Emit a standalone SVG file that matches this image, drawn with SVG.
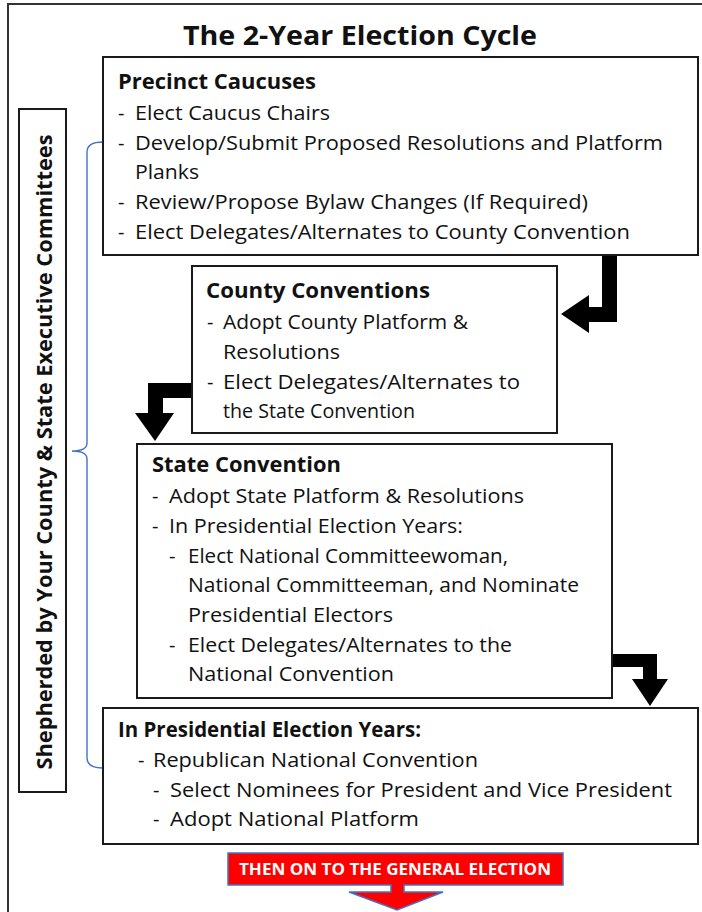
<svg xmlns="http://www.w3.org/2000/svg" width="702" height="912" viewBox="0 0 702 912">
<style>
  text { font-family: "Open Sans", "Liberation Sans", sans-serif; fill: #111; }
  .t { font-size: 20px; }
  .h { font-size: 21px; font-weight: bold; }
  .box { fill: #fff; stroke: #1a1a1a; stroke-width: 2; }
  .arrow { fill: #000; stroke: none; }
</style>
<rect x="0" y="0" width="702" height="912" fill="#fff"/>
<g id="frame">
  <path d="M8,912 V4 H702" fill="none" stroke="#333" stroke-width="2"/>
</g>
<g id="title">
  <text x="183" y="45" style="font-size:27px;font-weight:bold" textLength="354" lengthAdjust="spacingAndGlyphs">The 2-Year Election Cycle</text>
</g>
<g id="side-label">
  <rect x="19" y="109" width="47" height="683" class="box"/>
  <text transform="translate(52,452) rotate(-90)" text-anchor="middle" style="font-size:22px;font-weight:bold" textLength="635" lengthAdjust="spacingAndGlyphs">Shepherded by Your County &amp; State Executive Committees</text>
</g>
<g id="connectors">
  <path d="M103,142 Q87,142 87,152 V443 Q87,451 72,451 Q87,451 87,459 V758 Q87,768 103,768" fill="none" stroke="#4472C4" stroke-width="1.4"/>
  <polygon class="arrow" points="602,256 617,256 617,322 589,322 589,333 561,314 589,295 589,307 602,307"/>
  <polygon class="arrow" points="192,383 148,383 148,413 135,413 155,441 174,413 163,413 163,398 192,398"/>
  <polygon class="arrow" points="612,654 657,654 657,679 668,679 650,706 632,679 643,679 643,667 612,667"/>
</g>
<g id="precinct-caucuses">
  <rect x="103" y="57" width="595" height="198" class="box"/>
  <text x="118" y="89" class="h" textLength="198" lengthAdjust="spacingAndGlyphs">Precinct Caucuses</text>
  <text x="118" y="120" class="t">-</text>
  <text x="135" y="120" class="t" textLength="195" lengthAdjust="spacingAndGlyphs">Elect Caucus Chairs</text>
  <text x="118" y="150" class="t">-</text>
  <text x="135" y="150" class="t" textLength="528" lengthAdjust="spacingAndGlyphs">Develop/Submit Proposed Resolutions and Platform</text>
  <text x="135" y="179" class="t" textLength="64" lengthAdjust="spacingAndGlyphs">Planks</text>
  <text x="118" y="209" class="t">-</text>
  <text x="135" y="209" class="t" textLength="453" lengthAdjust="spacingAndGlyphs">Review/Propose Bylaw Changes (If Required)</text>
  <text x="118" y="239" class="t">-</text>
  <text x="135" y="239" class="t" textLength="495" lengthAdjust="spacingAndGlyphs">Elect Delegates/Alternates to County Convention</text>
</g>
<g id="county-conventions">
  <rect x="192" y="266" width="365" height="167" class="box"/>
  <text x="206" y="298" class="h" textLength="224" lengthAdjust="spacingAndGlyphs">County Conventions</text>
  <text x="207" y="329" class="t">-</text>
  <text x="223" y="329" class="t" textLength="245" lengthAdjust="spacingAndGlyphs">Adopt County Platform &amp;</text>
  <text x="223" y="359" class="t" textLength="117" lengthAdjust="spacingAndGlyphs">Resolutions</text>
  <text x="207" y="389" class="t">-</text>
  <text x="223" y="389" class="t" textLength="297" lengthAdjust="spacingAndGlyphs">Elect Delegates/Alternates to</text>
  <text x="223" y="418" class="t" textLength="192" lengthAdjust="spacingAndGlyphs">the State Convention</text>
</g>
<g id="state-convention">
  <rect x="137" y="444" width="475" height="254" class="box"/>
  <text x="152" y="472" class="h" textLength="189" lengthAdjust="spacingAndGlyphs">State Convention</text>
  <text x="152" y="503" class="t">-</text>
  <text x="169" y="503" class="t" textLength="355" lengthAdjust="spacingAndGlyphs">Adopt State Platform &amp; Resolutions</text>
  <text x="152" y="533" class="t">-</text>
  <text x="169" y="533" class="t" textLength="294" lengthAdjust="spacingAndGlyphs">In Presidential Election Years:</text>
  <text x="169" y="563" class="t">-</text>
  <text x="188" y="563" class="t" textLength="320" lengthAdjust="spacingAndGlyphs">Elect National Committeewoman,</text>
  <text x="188" y="592" class="t" textLength="391" lengthAdjust="spacingAndGlyphs">National Committeeman, and Nominate</text>
  <text x="188" y="622" class="t" textLength="205" lengthAdjust="spacingAndGlyphs">Presidential Electors</text>
  <text x="169" y="652" class="t">-</text>
  <text x="188" y="652" class="t" textLength="324" lengthAdjust="spacingAndGlyphs">Elect Delegates/Alternates to the</text>
  <text x="188" y="681" class="t" textLength="206" lengthAdjust="spacingAndGlyphs">National Convention</text>
</g>
<g id="national-convention">
  <rect x="103" y="708" width="595" height="136" class="box"/>
  <text x="118" y="737" class="h" textLength="303" lengthAdjust="spacingAndGlyphs">In Presidential Election Years:</text>
  <text x="138" y="767" class="t">-</text>
  <text x="153" y="767" class="t" textLength="325" lengthAdjust="spacingAndGlyphs">Republican National Convention</text>
  <text x="153" y="797" class="t">-</text>
  <text x="170" y="797" class="t" textLength="502" lengthAdjust="spacingAndGlyphs">Select Nominees for President and Vice President</text>
  <text x="153" y="826" class="t">-</text>
  <text x="170" y="826" class="t" textLength="249" lengthAdjust="spacingAndGlyphs">Adopt National Platform</text>
</g>
<g id="general-election">
  <path d="M228,853 H563 V885 H404 V892 H443 L397,910 L349,892 H391 V885 H228 Z" fill="#FF0000" stroke="#4472C4" stroke-width="1.5"/>
  <text x="395" y="875" text-anchor="middle" style="font-size:16px;font-weight:bold;fill:#fff" textLength="312" lengthAdjust="spacingAndGlyphs">THEN ON TO THE GENERAL ELECTION</text>
</g>
</svg>
